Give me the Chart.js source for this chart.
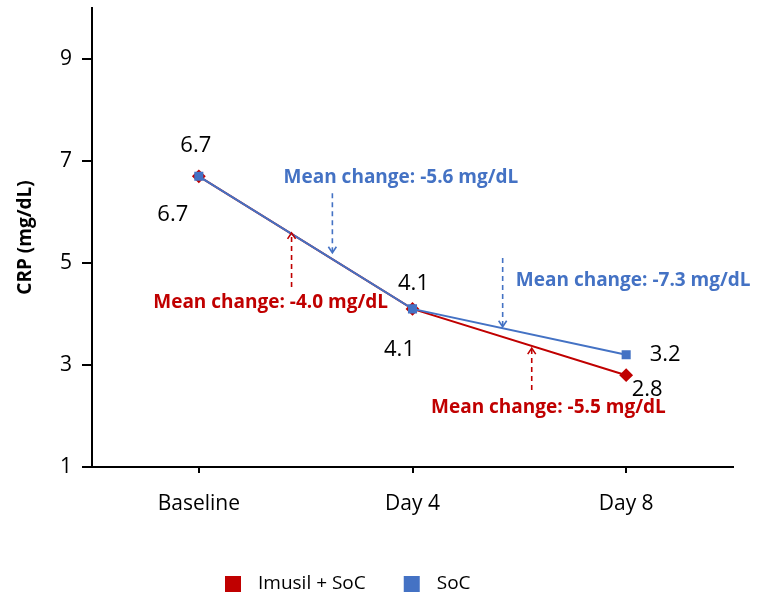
<!DOCTYPE html>
<html>
<head>
<meta charset="utf-8">
<script src="https://cdn.jsdelivr.net/npm/chart.js@4.4.1/dist/chart.umd.min.js"></script>
<style>
  html, body { margin: 0; padding: 0; background: #fff; }
  #wrap { width: 766px; height: 599px; }
</style>
</head>
<body>
<div id="wrap"><canvas id="chart"></canvas></div>
<script>
// ------------ Data ------------
const CATEGORIES = ["Baseline", "Day 4", "Day 8"];
const IMUSIL_SOC = [6.7, 4.1, 2.8];
const SOC        = [6.7, 4.1, 3.2];
const Y_TICKS    = [1, 3, 5, 7, 9];
const SERIES_LABELS = ["Imusil + SoC", "SoC"];

const RED  = "#C00000";
const BLUE = "#4472C4";
const FONT = "'Open Sans', Lato, sans-serif";

// value labels : [serie, index, dx, dy] (pixel offset from the point)
const VALUE_LABELS = [
  [1, 0,  -3, -31],
  [0, 0, -26,  38],
  [1, 1,   1, -25],
  [0, 1, -13,  41],
  [1, 2,  39,   0],
  [0, 2,  21,  15]
];

// mean change notes (anchored in data space: category index, value)
const NOTES = [
  { text: "Mean change: -5.6 mg/dL", color: BLUE, tx: 0.946, ty: 6.67, ax: 0.625, from: 6.37, to: 5.20 },
  { text: "Mean change: -4.0 mg/dL", color: RED,  tx: 0.336, ty: 4.22, ax: 0.434, from: 4.53, to: 5.59 },
  { text: "Mean change: -7.3 mg/dL", color: BLUE, tx: 2.033, ty: 4.65, ax: 1.422, from: 5.10, to: 3.75 },
  { text: "Mean change: -5.5 mg/dL", color: RED,  tx: 1.636, ty: 2.16, ax: 1.558, from: 2.51, to: 3.33 }
];

// ------------ Plugins ------------
const annotations = {
  id: "annotations",
  afterDatasetsDraw(chart) {
    const { ctx, scales: { x, y } } = chart;
    ctx.save();
    // valeurs
    ctx.fillStyle = "#000";
    ctx.font = "22px " + FONT;
    ctx.textAlign = "center";
    ctx.textBaseline = "middle";
    const series = [IMUSIL_SOC, SOC];
    VALUE_LABELS.forEach(([s, i, dx, dy]) => {
      const v = series[s][i];
      ctx.fillText(v.toFixed(1), x.getPixelForValue(i) + dx, y.getPixelForValue(v) + dy);
    });
    // notes + flèches
    NOTES.forEach(n => {
      ctx.fillStyle = n.color;
      ctx.font = "bold 19px " + FONT;
      ctx.fillText(n.text, x.getPixelForValue(n.tx), y.getPixelForValue(n.ty));

      const ax = x.getPixelForValue(n.ax);
      const y0 = y.getPixelForValue(n.from), y1 = y.getPixelForValue(n.to);
      const dir = y1 > y0 ? 1 : -1;
      ctx.strokeStyle = n.color;
      ctx.lineWidth = 1.6;
      ctx.setLineDash([5, 4]);
      ctx.beginPath();
      ctx.moveTo(ax, y0);
      ctx.lineTo(ax, y1);
      ctx.stroke();
      ctx.setLineDash([]);
      ctx.beginPath();
      ctx.moveTo(ax - 4, y1 - dir * 6);
      ctx.lineTo(ax, y1);
      ctx.lineTo(ax + 4, y1 - dir * 6);
      ctx.stroke();
    });
    ctx.restore();
  }
};

const bottomLegend = {
  id: "bottomLegend",
  afterDraw(chart) {
    const { ctx } = chart;
    const colors = [RED, BLUE];
    const yc = 584;
    let xPos = 225;
    ctx.save();
    ctx.font = "19px " + FONT;
    ctx.textBaseline = "middle";
    ctx.textAlign = "left";
    SERIES_LABELS.forEach((lab, k) => {
      ctx.fillStyle = colors[k];
      ctx.fillRect(xPos, yc - 8, 16, 16);
      ctx.fillStyle = "#000";
      ctx.fillText(lab, xPos + 33, yc);
      xPos += 33 + ctx.measureText(lab).width + 38;
    });
    ctx.restore();
  }
};

// ------------ Chart ------------
new Chart(document.getElementById("chart"), {
  type: "line",
  data: {
    labels: CATEGORIES,
    datasets: [
      {
        label: SERIES_LABELS[0], data: IMUSIL_SOC, order: 2,
        borderColor: RED, backgroundColor: RED, borderWidth: 2,
        pointStyle: "rectRot", pointRadius: 5.5, pointHoverRadius: 5.5
      },
      {
        label: SERIES_LABELS[1], data: SOC, order: 1,
        borderColor: BLUE, backgroundColor: BLUE, borderWidth: 2,
        pointStyle: "rect", pointRadius: 5, pointHoverRadius: 5
      }
    ]
  },
  options: {
    responsive: true,
    maintainAspectRatio: false,
    animation: false,
    layout: { padding: { left: 14, right: 33, top: 8, bottom: 60 } },
    plugins: { legend: { display: false }, tooltip: { enabled: false } },
    scales: {
      x: {
        offset: true,
        afterFit: s => { s.height = 72; s.paddingLeft = 0; s.paddingRight = 0; },
        grid: { offset: false, drawOnChartArea: false, drawTicks: true, tickLength: 6, color: "#000", lineWidth: 2 },
        border: { color: "#000", width: 2 },
        ticks: { padding: 18, color: "#000", font: { family: FONT, size: 21 } }
      },
      y: {
        min: 1, max: 10,
        afterBuildTicks: s => { s.ticks = Y_TICKS.map(v => ({ value: v })); },
        afterFit: s => { s.width = 78; s.paddingTop = 0; s.paddingBottom = 0; },
        grid: { drawOnChartArea: false, drawTicks: true, tickLength: 10, color: "#000", lineWidth: 2 },
        border: { color: "#000", width: 2 },
        ticks: { padding: 10, color: "#000", font: { family: FONT, size: 21 } },
        title: { display: true, text: "CRP (mg/dL)", color: "#000", padding: 0, font: { family: FONT, size: 19, weight: "bold" } }
      }
    }
  },
  plugins: [annotations, bottomLegend]
});
</script>
</body>
</html>
